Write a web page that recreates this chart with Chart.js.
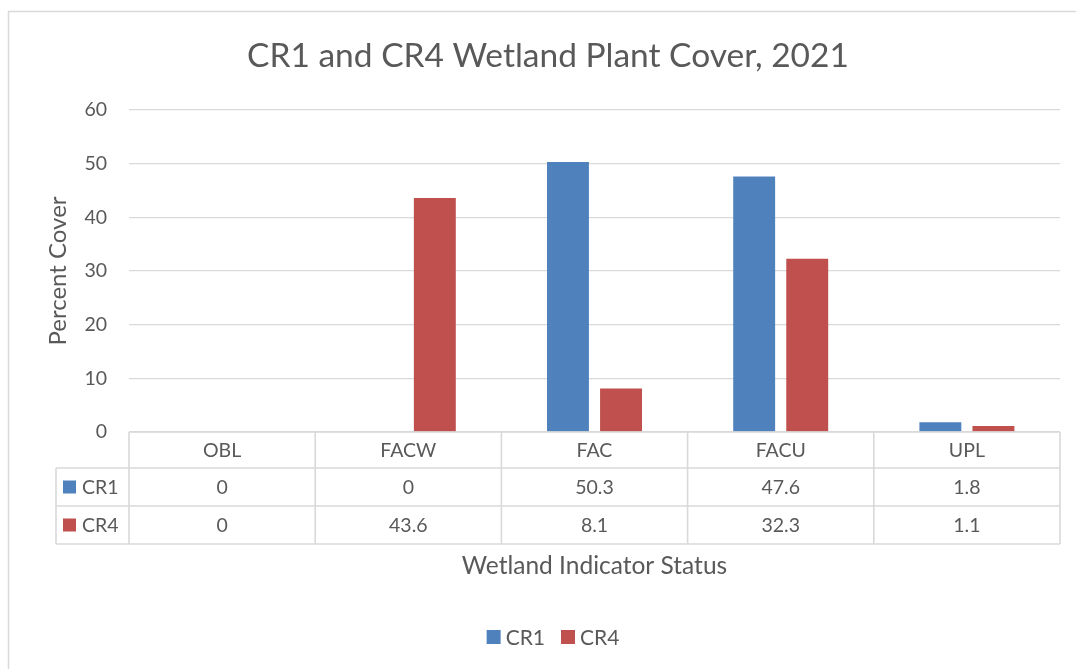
<!DOCTYPE html>
<html>
<head>
<meta charset="utf-8">
<script src="https://cdn.jsdelivr.net/npm/chart.js@4/dist/chart.umd.min.js"></script>
<style>
html,body{margin:0;padding:0;background:#fff;}
#wrap{width:1076px;height:669px;position:relative;}
</style>
</head>
<body>
<div id="wrap"><canvas id="c" width="1076" height="669"></canvas></div>
<script>
const categories = ["OBL", "FACW", "FAC", "FACU", "UPL"];
const seriesNames = ["CR1", "CR4"];
const cr1Values = [0, 0, 50.3, 47.6, 1.8];
const cr4Values = [0, 43.6, 8.1, 32.3, 1.1];
const yTicks = [0, 10, 20, 30, 40, 50, 60];
const chartTitle = "CR1 and CR4 Wetland Plant Cover, 2021";
const xTitle = "Wetland Indicator Status";
const yTitle = "Percent Cover";

const BLUE = "#4F81BD", RED = "#C0504D", TXT = "#595959", GRID = "#D9D9D9";
const FONT = "Lato, 'Open Sans', sans-serif";

const extras = {
  id: 'extras',
  beforeDraw(chart) {
    const ctx = chart.ctx;
    ctx.save();
    ctx.fillStyle = '#fff';
    ctx.fillRect(0, 0, chart.width, chart.height);
    ctx.strokeStyle = GRID;
    ctx.lineWidth = 1.5;
    ctx.strokeRect(8.5, 11.5, 1100, 700);
    ctx.restore();
  },
  afterDraw(chart) {
    const ctx = chart.ctx;
    const x = chart.scales.x, y = chart.scales.y;
    const area = chart.chartArea;
    const colors = [BLUE, RED];
    const series = [cr1Values, cr4Values];
    ctx.save();
    // title
    ctx.fillStyle = TXT;
    ctx.font = "33.5px " + FONT;
    ctx.textAlign = 'center';
    ctx.textBaseline = 'middle';
    ctx.fillText(chartTitle, 548, 56);

    // table
    const top = y.getPixelForValue(0);
    const rowH = [36, 38, 38];
    const rows = [top, top + rowH[0], top + rowH[0] + rowH[1], top + rowH[0] + rowH[1] + rowH[2]];
    const half = (x.getPixelForValue(1) - x.getPixelForValue(0)) / 2;
    const colEdges = categories.map((c, i) => x.getPixelForValue(i) - half);
    colEdges.push(x.getPixelForValue(categories.length - 1) + half);
    const leftEdge = 56;
    ctx.strokeStyle = GRID;
    ctx.lineWidth = 1.6;
    ctx.beginPath();
    ctx.moveTo(colEdges[0], rows[0]); ctx.lineTo(colEdges[colEdges.length - 1], rows[0]);
    for (let r = 1; r < rows.length; r++) {
      ctx.moveTo(leftEdge, rows[r]); ctx.lineTo(colEdges[colEdges.length - 1], rows[r]);
    }
    colEdges.forEach(e => { ctx.moveTo(e, rows[0]); ctx.lineTo(e, rows[3]); });
    ctx.moveTo(leftEdge, rows[1]); ctx.lineTo(leftEdge, rows[3]);
    ctx.stroke();

    ctx.fillStyle = TXT;
    ctx.font = "19.5px " + FONT;
    ctx.textAlign = 'center';
    ctx.textBaseline = 'middle';
    categories.forEach((c, i) => {
      const cx = x.getPixelForValue(i);
      ctx.fillText(c, cx, (rows[0] + rows[1]) / 2 + 1);
      series.forEach((s, k) => {
        ctx.fillText(String(s[i]), cx, (rows[k + 1] + rows[k + 2]) / 2 + 1);
      });
    });
    seriesNames.forEach((n, k) => {
      const cy = (rows[k + 1] + rows[k + 2]) / 2;
      ctx.fillStyle = colors[k];
      ctx.fillRect(63, cy - 6.5, 13, 13);
      ctx.fillStyle = TXT;
      ctx.textAlign = 'left';
      ctx.fillText(n, 82, cy + 1);
    });

    // x title
    ctx.font = "24.5px " + FONT;
    ctx.textAlign = 'center';
    ctx.fillText(xTitle, (area.left + area.right) / 2, 566);

    // bottom legend
    ctx.font = "21px " + FONT;
    const box = 14, gap = 5, itemGap = 16;
    const widths = seriesNames.map(n => box + gap + ctx.measureText(n).width);
    const total = widths.reduce((a, b) => a + b, 0) + itemGap * (widths.length - 1);
    let lx = 553 - total / 2;
    const ly = 637;
    seriesNames.forEach((n, k) => {
      ctx.fillStyle = colors[k];
      ctx.fillRect(lx, ly - box / 2, box, box);
      ctx.fillStyle = TXT;
      ctx.textAlign = 'left';
      ctx.fillText(n, lx + box + gap, ly + 1);
      lx += widths[k] + itemGap;
    });
    ctx.restore();
  }
};

new Chart(document.getElementById('c'), {
  type: 'bar',
  data: {
    labels: categories,
    datasets: [
      { label: seriesNames[0], data: cr1Values, backgroundColor: BLUE, categoryPercentage: 0.57, barPercentage: 0.79 },
      { label: seriesNames[1], data: cr4Values, backgroundColor: RED, categoryPercentage: 0.57, barPercentage: 0.79 }
    ]
  },
  options: {
    responsive: false,
    animation: false,
    events: [],
    layout: { padding: { top: 110, bottom: 237, left: 0, right: 16 } },
    plugins: {
      legend: { display: false },
      title: { display: false },
      tooltip: { enabled: false }
    },
    scales: {
      x: {
        ticks: { display: false },
        grid: { display: false, drawTicks: false },
        border: { display: false },
        afterFit: s => { s.height = 0; }
      },
      y: {
        min: 0, max: 60,
        afterBuildTicks: s => { s.ticks = yTicks.map(v => ({ value: v })); },
        ticks: { color: TXT, font: { size: 19.5, family: FONT }, padding: 22 },
        grid: { color: GRID, lineWidth: 1.2, drawTicks: false },
        border: { display: false },
        title: { display: true, text: yTitle, color: TXT, font: { size: 24, family: FONT }, padding: { top: 44, bottom: 0 } },
        afterFit: s => { s.width = 129; }
      }
    }
  },
  plugins: [extras]
});
</script>
</body>
</html>
